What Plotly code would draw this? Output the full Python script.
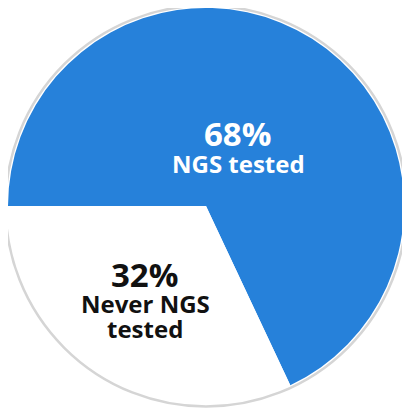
import plotly.graph_objects as go

# share of patients by NGS testing status
labels = ["NGS tested", "Never NGS tested"]
values = [68, 32]
colors = ["#2681DA", "#FFFFFF"]
text_colors = ["#FFFFFF", "#111111"]

W, H = 410, 411
OFF = 8  # page body margin shifts the figure by 8px
cx, cy, r = 198, 198, 198  # pixel centre / radius of the pie (figure coords)


def px(x):
    return (x - OFF) / W


def py(y):
    return (H - (y - OFF)) / H


fig = go.Figure()
fig.add_trace(go.Pie(
    labels=labels,
    values=values,
    sort=False,
    direction="clockwise",
    rotation=270,
    marker=dict(colors=colors, line=dict(width=0)),
    textinfo="none",
    hoverinfo="label+percent",
    showlegend=False,
    domain=dict(x=[(cx - r) / W, (cx + r) / W],
                y=[(H - cy - r) / H, (H - cy + r) / H]),
))

# thin grey rim round the whole pie
rim = 200.5
fig.add_shape(type="circle", xref="paper", yref="paper",
              x0=(cx - rim) / W, x1=(cx + rim) / W,
              y0=(H - cy - rim) / H, y1=(H - cy + rim) / H,
              line=dict(color="#D5D5D5", width=2.5), layer="above")

font = "Open Sans"
# value + label positions (screen pixels)
spots = [
    [(237, 134, f"<b>{values[0]}%</b>", 33), (238, 163, "<b>NGS tested</b>", 24)],
    [(144, 274, f"<b>{values[1]}%</b>", 33), (145, 303, "<b>Never NGS</b>", 24),
     (145, 328, "<b>tested</b>", 24)],
]
for i, group in enumerate(spots):
    for x, y, t, s in group:
        fig.add_annotation(x=px(x), y=py(y), xref="paper", yref="paper",
                           text=t, showarrow=False,
                           font=dict(family=font, size=s, color=text_colors[i]),
                           xanchor="center", yanchor="middle")

fig.update_layout(width=W, height=H, margin=dict(l=0, r=0, t=0, b=0),
                  paper_bgcolor="white", plot_bgcolor="white")

fig.write_html("out.html")
